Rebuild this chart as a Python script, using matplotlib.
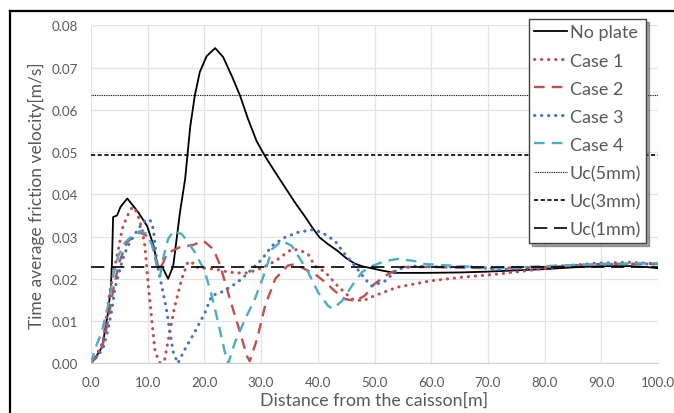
import matplotlib.pyplot as plt
from matplotlib.lines import Line2D

# data
x_noplate = [0, 1.2, 2, 3, 3.5, 3.7, 3.9, 4.6, 5.2, 6.4, 7.3, 8.3, 9.9, 11, 11.8, 12.5, 13.6, 14.5,
             15.7, 16.6, 17.5, 18.3, 19.2, 20.4, 21.9, 23.3, 24.9, 26.3, 27.7, 29.2, 30.7, 32.5,
             34.2, 36, 37.7, 39, 40.3, 41.8, 43.5, 45, 46.5, 48, 49.5, 51.5, 53.6, 58.9, 65, 70, 75,
             80, 85, 90, 95, 98, 100]
y_noplate = [0, 0.0022, 0.004, 0.012, 0.018, 0.024, 0.0346, 0.035, 0.037, 0.039, 0.0375, 0.0358,
             0.0325, 0.028, 0.0228, 0.023, 0.020, 0.023, 0.0358, 0.0436, 0.056, 0.0633, 0.069,
             0.0727, 0.0746, 0.0725, 0.0678, 0.0633, 0.0578, 0.0526, 0.049, 0.0452, 0.0417, 0.038,
             0.0348, 0.0322, 0.0298, 0.0282, 0.0266, 0.0249, 0.0236, 0.0229, 0.0225, 0.0219, 0.0214,
             0.0214, 0.0215, 0.0217, 0.022, 0.0223, 0.0227, 0.023, 0.023, 0.0228, 0.0225]

x_case1 = [0, 1, 2.1, 3.4, 4.6, 5.5, 6.4, 7.3, 8.1, 9, 9.5, 10, 10.7, 11.3, 12.2, 13, 13.9, 14.8,
           16, 17.1, 17.8, 18.3, 20, 21.9, 23.5, 25.4, 27.7, 30.2, 32.5, 35.4, 36.8, 38.3, 39.5,
           41.3, 43.5, 46, 48, 50, 54, 59.8, 65.6, 71.6, 77.4, 83.2, 89, 95, 100]
y_case1 = [0, 0.002, 0.005, 0.0176, 0.0254, 0.0318, 0.0349, 0.037, 0.0358, 0.0318, 0.0278, 0.020,
           0.0105, 0.0027, 0.0, 0.001, 0.0075, 0.0136, 0.020, 0.024, 0.024, 0.0228, 0.0225, 0.0223,
           0.0218, 0.0214, 0.0214, 0.0226, 0.0242, 0.027, 0.0268, 0.0258, 0.023, 0.0216, 0.0183,
           0.0152, 0.0148, 0.016, 0.018, 0.0195, 0.0204, 0.0211, 0.022, 0.023, 0.0237, 0.0239, 0.0236]

x_case2 = [0, 1, 2, 3, 4, 5, 6.3, 7.5, 8.6, 10.4, 11.2, 12, 12.8, 13.4, 15.7, 18, 19.8, 21.6, 22.8,
           24.5, 26.3, 27.5, 28, 29.3, 30.7, 32.5, 34.7, 36, 37.7, 39.5, 41.3, 43, 44.8, 46.6, 48.3,
           50, 52.4, 54.9, 60, 70, 80, 90, 100]
y_case2 = [0, 0.0015, 0.004, 0.010, 0.018, 0.024, 0.0286, 0.030, 0.031, 0.0298, 0.026, 0.022, 0.024,
           0.026, 0.0275, 0.028, 0.029, 0.027, 0.0231, 0.0152, 0.0073, 0.0017, 0.0005, 0.0058,
           0.0136, 0.020, 0.0231, 0.0235, 0.0223, 0.0211, 0.0192, 0.0171, 0.0152, 0.0148, 0.016,
           0.0188, 0.0211, 0.0228, 0.0228, 0.0225, 0.0228, 0.0235, 0.0235]

x_case3 = [0, 1, 2.1, 3, 3.7, 4.2, 4.8, 5.6, 6.5, 7.4, 8.3, 9.5, 10.4, 11, 11.6, 12.2, 12.7, 13.4,
           13.9, 14.5, 15.3, 16.6, 18.3, 20.1, 21.3, 23.1, 24.9, 26.6, 28.4, 30.2, 31.9, 34.2, 36.5,
           39, 40.7, 43, 44.8, 46.6, 48.3, 49.5, 51.9, 54.1, 57.1, 62, 67, 72, 77, 82, 88, 94, 100]
y_case3 = [0, 0.0015, 0.0034, 0.008, 0.0128, 0.0176, 0.0207, 0.0247, 0.0278, 0.0298, 0.0318, 0.0337,
           0.034, 0.0318, 0.024, 0.020, 0.0169, 0.0121, 0.0074, 0.0027, 0.0, 0.0034, 0.0074, 0.012,
           0.016, 0.0169, 0.0183, 0.020, 0.0223, 0.0247, 0.0278, 0.0298, 0.031, 0.0316, 0.031, 0.029,
           0.0258, 0.023, 0.020, 0.0183, 0.0195, 0.0223, 0.023, 0.0228, 0.0228, 0.0222, 0.0225,
           0.023, 0.0233, 0.0235, 0.0235]

x_case4 = [0, 0.7, 1.9, 3, 3.9, 4.8, 6, 7.2, 8.6, 9.9, 10.8, 11.6, 12.2, 12.7, 13.6, 14.5, 16, 17.1,
           18.3, 19.6, 20.1, 21.3, 22.4, 23.6, 24.2, 25.4, 27.2, 28.9, 30.7, 31.9, 33.7, 35.4, 37.2,
           38.3, 40, 41.8, 42.7, 44.3, 46, 47.8, 49.5, 51.9, 54.1, 57.1, 58.9, 65, 72, 80, 90, 100]
y_case4 = [0, 0.0034, 0.0074, 0.0136, 0.0207, 0.0254, 0.0286, 0.0301, 0.0313, 0.0306, 0.0278, 0.023,
           0.0207, 0.0247, 0.0294, 0.0313, 0.0306, 0.0287, 0.0263, 0.023, 0.0216, 0.016, 0.0098,
           0.0027, 0.0, 0.005, 0.0105, 0.0152, 0.0216, 0.027, 0.029, 0.0278, 0.024, 0.0216, 0.0169,
           0.0136, 0.0129, 0.0148, 0.0183, 0.0216, 0.023, 0.0242, 0.0247, 0.0242, 0.0235, 0.023,
           0.0225, 0.023, 0.0235, 0.0237]

uc_labels = ["Uc(5mm)", "Uc(3mm)", "Uc(1mm)"]
uc_values = [0.0634, 0.0492, 0.0227]

x_ticks = [0, 10, 20, 30, 40, 50, 60, 70, 80, 90, 100]
y_ticks = [0, 0.01, 0.02, 0.03, 0.04, 0.05, 0.06, 0.07, 0.08]

plt.rcParams["font.family"] = ["Lato", "DejaVu Sans"]
gray = "#595959"

fig = plt.figure(figsize=(6.74, 4.14), dpi=100)
ax = fig.add_axes([91 / 674, 1 - 364.3 / 414, 567 / 674, 338 / 414])

dot = (0, (0.1, 2.2))
ax.plot(x_noplate, y_noplate, color="black", lw=1.3, label="No plate")
ax.plot(x_case1, y_case1, color="#C84B4B", lw=2.2, ls=dot, dash_capstyle="round", label="Case 1")
ax.plot(x_case2, y_case2, color="#C0504D", lw=1.7, ls=(0, (4.5, 3)), label="Case 2")
ax.plot(x_case3, y_case3, color="#4472C4", lw=2.2, ls=dot, dash_capstyle="round", label="Case 3")
ax.plot(x_case4, y_case4, color="#4BACC6", lw=1.7, ls=(0, (4.5, 3)), label="Case 4")

uc_styles = [(0, (0.8, 0.8)), (0, (2.5, 1.5)), (0, (8, 4))]
uc_widths = [0.8, 1.2, 1.2]
for lab, val, st, w in zip(uc_labels, uc_values, uc_styles, uc_widths):
    ax.axhline(val, color="black", lw=w, ls=st, label=lab)

ax.set_xlim(0, 100)
ax.set_ylim(0, 0.08)
ax.set_xticks(x_ticks)
ax.set_xticklabels([f"{v:.1f}" for v in x_ticks])
ax.set_yticks(y_ticks)
ax.set_yticklabels([f"{v:.2f}" for v in y_ticks])
ax.tick_params(length=0, colors=gray, labelsize=9.6, pad=9)
ax.grid(True, color="#E3E3E3", lw=0.9)
ax.set_axisbelow(True)
for s in ["top", "right", "left"]:
    ax.spines[s].set_visible(False)
ax.spines["bottom"].set_color("#D0D0D0")

ax.set_xlabel("Distance from the caisson[m]", color=gray, fontsize=12.8, labelpad=3)
ax.set_ylabel("Time average friction velocity[m/s]", color=gray, fontsize=12.5, labelpad=5)

leg = ax.legend(loc="upper left", bbox_to_anchor=(529 / 674, 1 - 20 / 414),
                bbox_transform=fig.transFigure, borderaxespad=0, fancybox=False,
                shadow=True, framealpha=1, edgecolor="#404040", fontsize=13,
                handlelength=1.8, handletextpad=0.15, labelspacing=0.67, borderpad=0.3)
leg.get_frame().set_linewidth(1.0)
for t in leg.get_texts():
    t.set_color(gray)

# outer frame of the picture
fig.add_artist(Line2D([10 / 674, 10 / 674], [0, 1 - 12 / 414], transform=fig.transFigure,
                      color="black", lw=1.6))
fig.add_artist(Line2D([10 / 674, 1], [1 - 12 / 414, 1 - 12 / 414], transform=fig.transFigure,
                      color="black", lw=1.6))

fig.savefig("out.png", dpi=100)
